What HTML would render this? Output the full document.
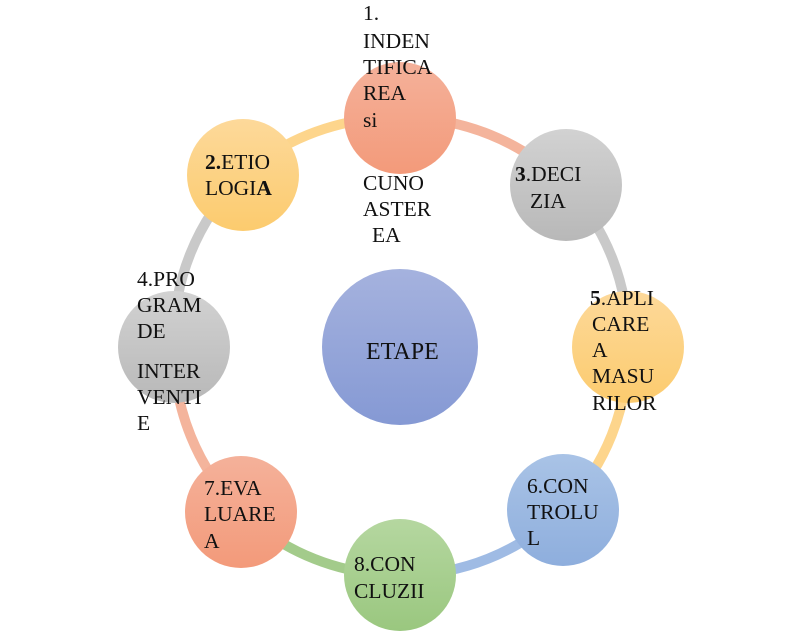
<!DOCTYPE html>
<html><head><meta charset="utf-8"><style>body{margin:0;background:#fff}svg{display:block}text{font-family:"Liberation Serif",serif;font-size:21.5px;fill:#111}</style></head><body>
<svg width="803" height="634" viewBox="0 0 803 634">
<defs>
<linearGradient id="o" x1="0" y1="0" x2="0" y2="1"><stop offset="0" stop-color="#f4b19a"/><stop offset="1" stop-color="#f39a7a"/></linearGradient>
<linearGradient id="y" x1="0" y1="0" x2="0" y2="1"><stop offset="0" stop-color="#fdd99a"/><stop offset="1" stop-color="#fccb6e"/></linearGradient>
<linearGradient id="g" x1="0" y1="0" x2="0" y2="1"><stop offset="0" stop-color="#d2d2d2"/><stop offset="1" stop-color="#b8b8b8"/></linearGradient>
<linearGradient id="b" x1="0" y1="0" x2="0" y2="1"><stop offset="0" stop-color="#a9c3e6"/><stop offset="1" stop-color="#8eaedd"/></linearGradient>
<linearGradient id="gr" x1="0" y1="0" x2="0" y2="1"><stop offset="0" stop-color="#b5d7a0"/><stop offset="1" stop-color="#9ac77f"/></linearGradient>
<linearGradient id="c" x1="0" y1="0" x2="0" y2="1"><stop offset="0" stop-color="#a5b2de"/><stop offset="1" stop-color="#8599d4"/></linearGradient>
</defs>
<g fill="none" stroke-width="10">
<path d="M400 118 A229 229 0 0 1 566 185" stroke="#f4b49c"/>
<path d="M566 185 A229 229 0 0 1 628 347" stroke="#c9c9c9"/>
<path d="M628 347 A229 229 0 0 1 563 510" stroke="#fdd58c"/>
<path d="M563 510 A229 229 0 0 1 400 575" stroke="#9fbbe4"/>
<path d="M400 575 A229 229 0 0 1 241 512" stroke="#a3cb8b"/>
<path d="M241 512 A229 229 0 0 1 174 347" stroke="#f4b49c"/>
<path d="M174 347 A229 229 0 0 1 243 175" stroke="#c9c9c9"/>
<path d="M243 175 A229 229 0 0 1 400 118" stroke="#fdd58c"/>
</g>
<circle cx="400" cy="118" r="56" fill="url(#o)"/>
<circle cx="243" cy="175" r="56" fill="url(#y)"/>
<circle cx="566" cy="185" r="56" fill="url(#g)"/>
<circle cx="628" cy="347" r="56" fill="url(#y)"/>
<circle cx="563" cy="510" r="56" fill="url(#b)"/>
<circle cx="400" cy="575" r="56" fill="url(#gr)"/>
<circle cx="241" cy="512" r="56" fill="url(#o)"/>
<circle cx="174" cy="347" r="56" fill="url(#g)"/>
<circle cx="400" cy="347" r="78" fill="url(#c)"/>
<g transform="translate(0,2)">
<text x="363" y="18">1.</text><text x="363" y="46">INDEN</text><text x="363" y="72">TIFICA</text><text x="363" y="98">REA</text><text x="363" y="125">si</text>
<text x="363" y="188">CUNO</text><text x="363" y="214">ASTER</text><text x="372" y="240">EA</text>
<text x="205" y="167"><tspan font-weight="bold">2.</tspan>ETIO</text><text x="205" y="193">LOGI<tspan font-weight="bold">A</tspan></text>
<text x="515" y="179"><tspan font-weight="bold">3</tspan>.DECI</text><text x="530" y="206">ZIA</text>
<text x="137" y="284">4.PRO</text><text x="137" y="310">GRAM</text><text x="137" y="336">DE</text><text x="137" y="376">INTER</text><text x="137" y="402">VENTI</text><text x="137" y="428">E</text>
<text x="590" y="303"><tspan font-weight="bold">5</tspan>.APLI</text><text x="592" y="329">CARE</text><text x="592" y="355">A</text><text x="592" y="381">MASU</text><text x="592" y="408">RILOR</text>
<text x="527" y="491">6.CON</text><text x="527" y="517">TROLU</text><text x="527" y="543">L</text>
<text x="204" y="493">7.EVA</text><text x="204" y="519">LUARE</text><text x="204" y="546">A</text>
<text x="354" y="569">8.CON</text><text x="354" y="596">CLUZII</text>
<text x="366" y="357" style="font-size:24px">ETAPE</text>
</g>
</svg></body></html>
